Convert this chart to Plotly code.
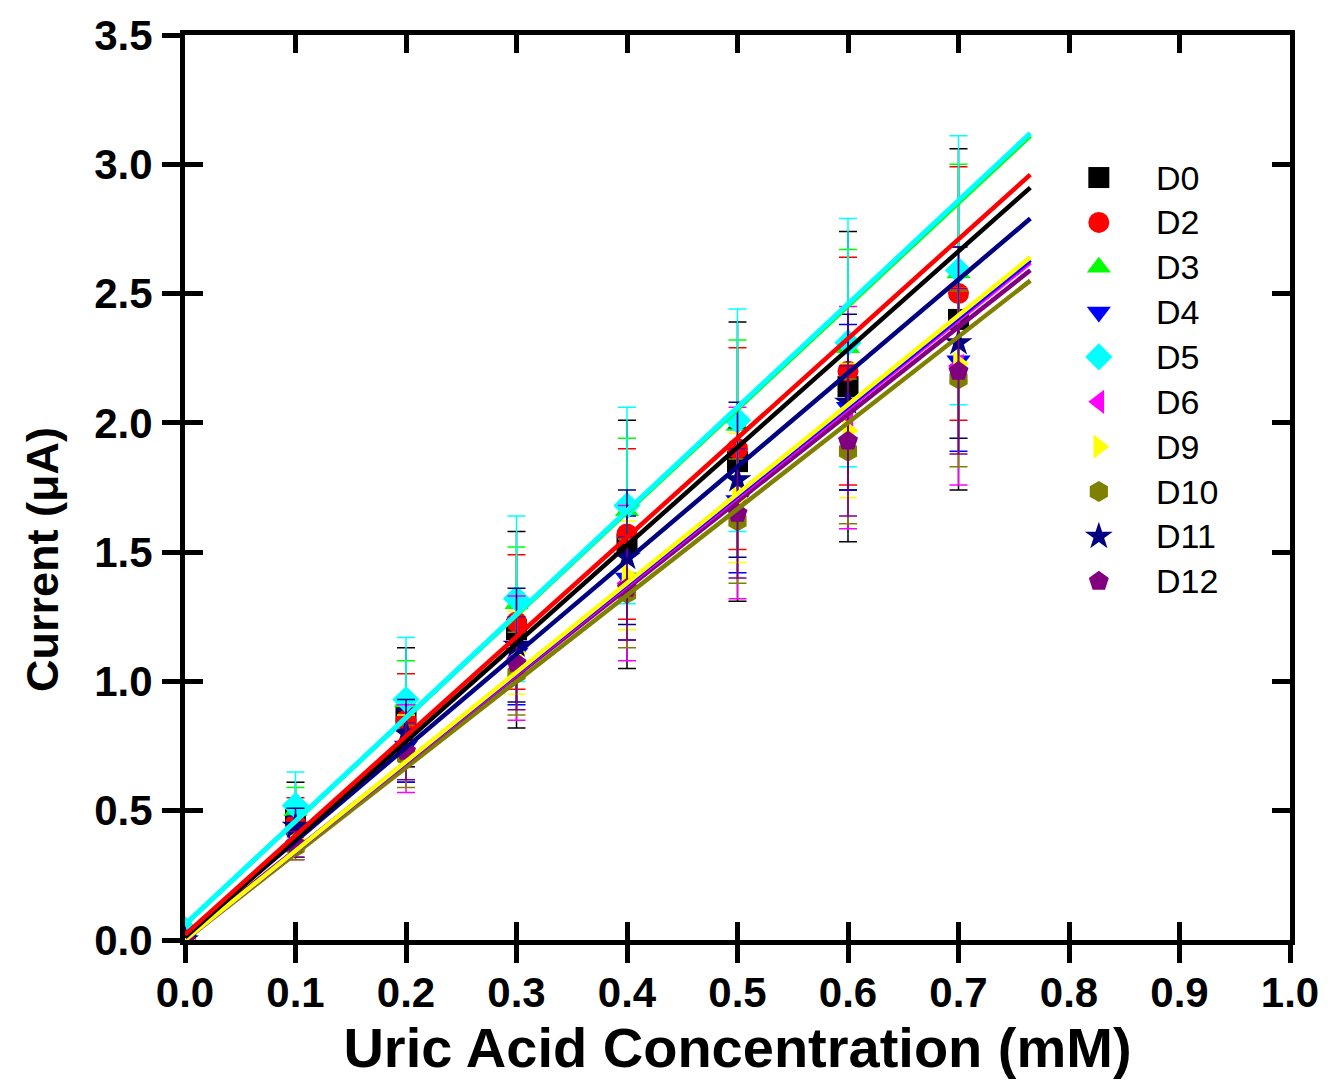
import plotly.graph_objects as go

# ---------------- data ----------------
conc = [0.0, 0.1, 0.2, 0.3, 0.4, 0.5, 0.6, 0.7]
names = ["D0", "D2", "D3", "D4", "D5", "D6", "D9", "D10", "D11", "D12"]

D0 = [0.00, 0.48, 0.87, 1.20, 1.53, 1.85, 2.14, 2.40]
D2 = [0.00, 0.45, 0.85, 1.23, 1.57, 1.90, 2.20, 2.50]
D3 = [0.00, 0.50, 0.92, 1.30, 1.66, 1.99, 2.29, 2.58]
D4 = [0.00, 0.40, 0.75, 1.11, 1.40, 1.70, 2.06, 2.24]
D5 = [0.04, 0.52, 0.93, 1.32, 1.68, 2.01, 2.31, 2.59]
D6 = [0.00, 0.38, 0.74, 1.09, 1.38, 1.69, 2.02, 2.22]
D9 = [0.00, 0.39, 0.77, 1.11, 1.41, 1.71, 1.97, 2.23]
D10 = [0.00, 0.36, 0.71, 1.03, 1.34, 1.62, 1.89, 2.17]
D11 = [0.00, 0.44, 0.80, 1.14, 1.48, 1.78, 2.08, 2.31]
D12 = [0.00, 0.37, 0.73, 1.07, 1.36, 1.65, 1.93, 2.20]

E0 = [0.00, 0.13, 0.26, 0.38, 0.48, 0.54, 0.60, 0.66]
E2 = [0.00, 0.10, 0.18, 0.26, 0.33, 0.39, 0.44, 0.49]
E3 = [0.00, 0.09, 0.16, 0.22, 0.28, 0.33, 0.38, 0.42]
E4 = [0.00, 0.08, 0.14, 0.20, 0.24, 0.28, 0.32, 0.35]
E5 = [0.00, 0.13, 0.24, 0.32, 0.38, 0.43, 0.48, 0.52]
E6 = [0.00, 0.07, 0.17, 0.24, 0.30, 0.37, 0.43, 0.46]
E9 = [0.00, 0.05, 0.10, 0.16, 0.21, 0.25, 0.26, 0.29]
E10 = [0.00, 0.05, 0.12, 0.16, 0.21, 0.24, 0.28, 0.34]
E11 = [0.00, 0.07, 0.13, 0.22, 0.26, 0.30, 0.34, 0.37]
E12 = [0.00, 0.05, 0.11, 0.18, 0.20, 0.25, 0.29, 0.32]

# linear-fit lines: value at x = 0 and at the end of the line
fit_x = [0.0, 0.765]
fit_start = [0.01, 0.02, 0.06, 0.00, 0.06, 0.00, 0.00, 0.00, 0.02, 0.01]
fit_end = [2.91, 2.96, 3.11, 2.63, 3.12, 2.62, 2.64, 2.55, 2.79, 2.59]

x_ticks = [0.0, 0.1, 0.2, 0.3, 0.4, 0.5, 0.6, 0.7, 0.8, 0.9, 1.0]
y_ticks = [0.0, 0.5, 1.0, 1.5, 2.0, 2.5, 3.0, 3.5]

values = [D0, D2, D3, D4, D5, D6, D9, D10, D11, D12]
errors = [E0, E2, E3, E4, E5, E6, E9, E10, E11, E12]

# ---------------- styles ----------------
colors = ["#000000", "#FF0000", "#00FF00", "#0000FF", "#00FFFF",
          "#FF00FF", "#FFFF00", "#808000", "#000080", "#800080"]
symbols = ["square", "circle", "triangle-up", "triangle-down", "diamond",
           "triangle-left", "triangle-right", "hexagon", "star", "pentagon"]

FONT = "Arial, Liberation Sans, sans-serif"
MSIZE = 21

fig = go.Figure()

for n, v, e, c, s in zip(names, values, errors, colors, symbols):
    fig.add_trace(go.Scatter(
        x=conc, y=v, mode="markers", name=n, showlegend=False,
        marker=dict(color=c, symbol=s, size=MSIZE, line=dict(width=0)),
        error_y=dict(type="data", array=e, visible=True, color=c,
                     thickness=1.5, width=9),
    ))

line_order = [7, 9, 5, 3, 6, 8, 0, 1, 2, 4]
for i in line_order:
    fig.add_trace(go.Scatter(
        x=fit_x, y=[fit_start[i], fit_end[i]], mode="lines",
        line=dict(color=colors[i], width=5 if i == 4 else 4.5),
        showlegend=False, hoverinfo="skip",
    ))

# dummy trace for overlay axes (inside ticks)
fig.add_trace(go.Scatter(x=[], y=[], xaxis="x2", yaxis="y2",
                         showlegend=False, hoverinfo="skip"))

# hand-drawn legend on its own hidden axes (0..1 over the plot area)
LEG_X = 0.827
LEG_TOP = 0.8425
LEG_STEP = 0.04956
LEG_TEXT_X = 0.8766
for k, (n, c, s) in enumerate(zip(names, colors, symbols)):
    yk = LEG_TOP - k * LEG_STEP
    fig.add_trace(go.Scatter(
        x=[LEG_X], y=[yk], xaxis="x3", yaxis="y3", mode="markers",
        marker=dict(color=c, symbol=s, size=MSIZE, line=dict(width=0)),
        showlegend=False, hoverinfo="skip",
    ))
    fig.add_annotation(x=LEG_TEXT_X, y=yk, xref="x3", yref="y3", text=n,
                       showarrow=False, xanchor="left", yanchor="middle",
                       font=dict(family=FONT, size=34, color="black"))

# y-axis title (sits below the centre of the axis in the original)
fig.add_annotation(x=-0.1288, y=0.4207, xref="paper", yref="paper",
                   text="<b>Current (μA)</b>", textangle=-90,
                   showarrow=False, xanchor="center", yanchor="middle",
                   font=dict(family=FONT, size=45, color="black"))

tickfont = dict(family=FONT, size=42, color="black")
common = dict(showgrid=False, zeroline=False, linecolor="black", linewidth=5)

fig.update_layout(
    width=1331, height=1082,
    margin=dict(l=185, r=36, t=26, b=135),
    paper_bgcolor="white", plot_bgcolor="white",
    font=dict(family=FONT, color="black"),
    showlegend=False,
    xaxis=dict(range=[0, 1.0], tickvals=x_ticks,
               ticktext=[f"<b>{t:.1f}</b>" for t in x_ticks],
               ticks="outside", ticklen=18, tickwidth=5, tickcolor="black",
               showline=True, mirror=False, tickfont=tickfont,
               ticklabelstandoff=-6,
               title=dict(text="<b>Uric Acid Concentration (mM)</b>",
                          font=dict(family=FONT, size=56), standoff=14),
               **common),
    yaxis=dict(range=[0, 3.5], tickvals=y_ticks,
               ticktext=[f"<b>{t:.1f}</b>" for t in y_ticks],
               ticks="outside", ticklen=18, tickwidth=5, tickcolor="black",
               showline=True, mirror=False, tickfont=tickfont,
               ticklabelstandoff=1,
               **common),
    xaxis2=dict(range=[0, 1.0], tickvals=x_ticks, overlaying="x",
                side="bottom", ticks="inside", ticklen=18, tickwidth=5,
                tickcolor="black", showline=True, mirror="ticks",
                showticklabels=False, anchor="y2", **common),
    yaxis2=dict(range=[0, 3.5], tickvals=y_ticks, overlaying="y",
                side="left", ticks="inside", ticklen=18, tickwidth=5,
                tickcolor="black", showline=True, mirror="ticks",
                showticklabels=False, anchor="x2", **common),
    xaxis3=dict(range=[0, 1], overlaying="x", visible=False, anchor="y3"),
    yaxis3=dict(range=[0, 1], overlaying="y", visible=False, anchor="x3"),
)

fig.write_html("out.html")
